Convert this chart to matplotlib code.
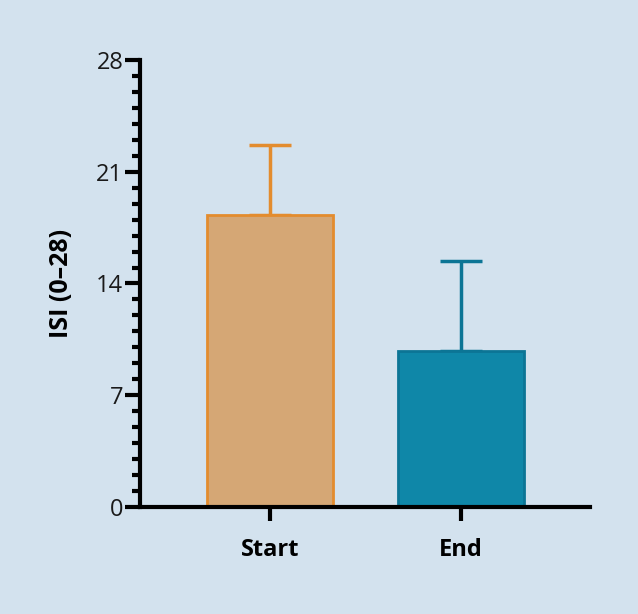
import matplotlib.pyplot as plt
from matplotlib.ticker import MultipleLocator

categories = ['Start', 'End']
means = [18.3, 9.8]
errors_up = [4.4, 5.6]
fill_colors = ['#d5a775', '#0f87a8']
edge_colors = ['#e38c2e', '#0c7595']

bg = '#d3e2ee'

fig = plt.figure(figsize=(6.38, 6.14), dpi=100, facecolor=bg)
ax = fig.add_axes([0.2194, 0.1743, 0.7054, 0.728])
ax.set_facecolor(bg)

x = range(len(categories))
for i in x:
    ax.bar(i, means[i], width=0.66, color=fill_colors[i], edgecolor=edge_colors[i],
           linewidth=2, zorder=2)
    ax.errorbar(i, means[i], yerr=[[0], [errors_up[i]]], fmt='none',
                ecolor=edge_colors[i], elinewidth=2.5, capsize=15, capthick=2.5, zorder=1)

ax.set_xlim(-0.68, 1.675)
ax.set_ylim(0, 28)
ax.set_xticks(list(x))
ax.set_xticklabels(categories, fontsize=17, fontweight='bold', family='Open Sans')
ax.yaxis.set_major_locator(MultipleLocator(7))
ax.yaxis.set_minor_locator(MultipleLocator(1))
for lab in ax.get_yticklabels():
    lab.set_family('Open Sans')
    lab.set_fontsize(17)
    lab.set_color('#1a1a1a')

ax.spines['top'].set_visible(False)
ax.spines['right'].set_visible(False)
ax.spines['left'].set_linewidth(3)
ax.spines['bottom'].set_linewidth(3)
ax.tick_params(axis='y', which='major', length=11, width=3, pad=1)
ax.tick_params(axis='y', which='minor', length=6, width=3)
ax.tick_params(axis='x', which='major', length=10, width=3, pad=12)

ax.set_ylabel('ISI (0\u201328)', fontsize=18, fontweight='bold', family='Open Sans', labelpad=16)

fig.savefig('out.png', dpi=100, facecolor=bg)
